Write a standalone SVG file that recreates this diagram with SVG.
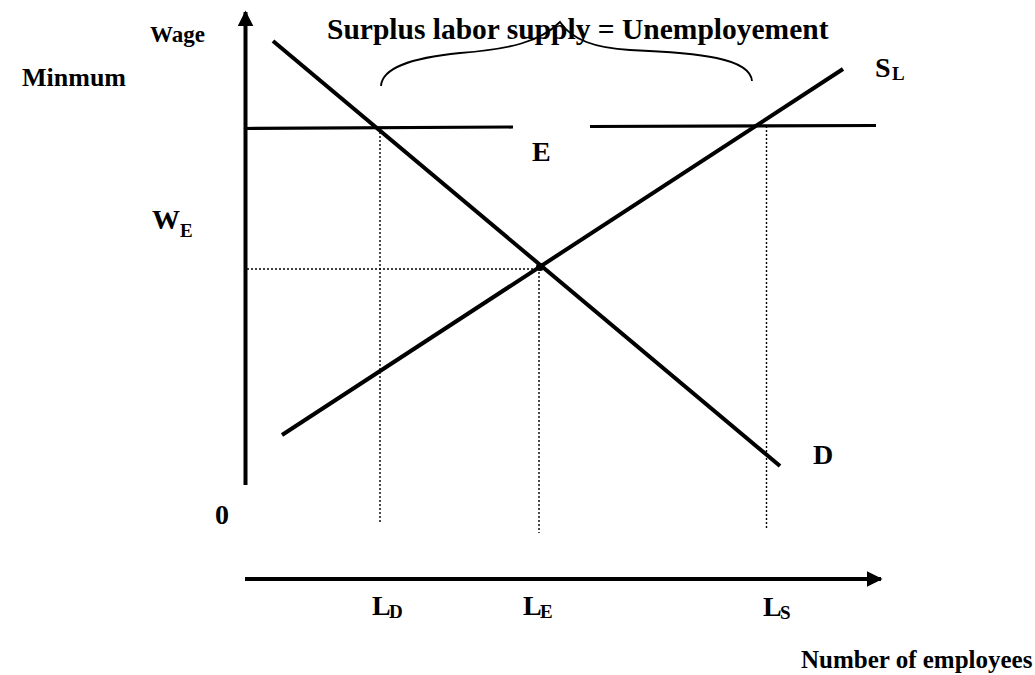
<svg xmlns="http://www.w3.org/2000/svg" width="1035" height="675" viewBox="0 0 1035 675">
<style>
text{font-family:"Liberation Serif","Times New Roman",serif;font-weight:bold;fill:#000}
.big{font-size:28px}
.sub{font-size:19px}
.thick{stroke:#000;stroke-width:4;fill:none}
.mid{stroke:#000;stroke-width:3.2;fill:none}
.dot{stroke:#000;stroke-width:1.4;stroke-dasharray:2 2;fill:none}
</style>
<defs>
<marker id="arr" viewBox="0 0 10 10" refX="9" refY="5" markerWidth="4" markerHeight="4" markerUnits="strokeWidth" orient="auto">
<path d="M0,0 L10,5 L0,10 Z" fill="#000"/>
</marker>
</defs>
<rect width="1035" height="675" fill="#fff"/>
<g id="connectors">
<line id="y-axis" class="thick" x1="245.5" y1="485" x2="245.5" y2="12" marker-end="url(#arr)"/>
<line id="x-axis" class="thick" x1="245" y1="579" x2="881" y2="579" marker-end="url(#arr)"/>
<line id="demand" class="thick" x1="273" y1="41" x2="780" y2="466"/>
<line id="supply" class="thick" x1="282" y1="435" x2="843" y2="69"/>
<line id="minwage-left" class="mid" x1="245" y1="128.5" x2="513" y2="127"/>
<line id="minwage-right" class="mid" x1="590" y1="126.5" x2="876" y2="125.5"/>
<line class="dot" x1="380" y1="128" x2="380" y2="522"/>
<line class="dot" x1="539" y1="268" x2="539" y2="533"/>
<line class="dot" x1="766.5" y1="126" x2="766.5" y2="528"/>
<line class="dot" x1="247" y1="269" x2="540" y2="269"/>
<path id="brace" d="M381,86 C382,68 410,58 460,53 C510,49 540,42 560,22 C572,40 595,48 630,50 C700,53 750,58 752,81" stroke="#000" stroke-width="1.8" fill="none"/>
<circle cx="540" cy="267" r="4" fill="#000"/>
</g>
<g id="labels">
<text x="22" y="86" style="font-size:26px">Minmum</text>
<text x="150" y="42" style="font-size:23px">Wage</text>
<text x="327" y="39" style="font-size:29.5px">Surplus labor supply = Unemployement</text>
<g id="WE"><text class="big" x="152" y="229">W</text><text class="sub" x="180" y="237">E</text></g>
<g id="SL"><text class="big" x="875" y="77">S</text><text class="sub" x="892" y="80">L</text></g>
<text class="big" x="532" y="161">E</text>
<text class="big" x="813" y="464">D</text>
<text class="big" x="215" y="524">0</text>
<g id="LD"><text class="big" x="372" y="615">L</text><text class="sub" x="389" y="618">D</text></g>
<g id="LE"><text class="big" x="523" y="615">L</text><text class="sub" x="540" y="618">E</text></g>
<g id="LS"><text class="big" x="763" y="616">L</text><text class="sub" x="780" y="619">S</text></g>
<text x="801" y="668" style="font-size:25px">Number of employees</text>
</g>
</svg>
